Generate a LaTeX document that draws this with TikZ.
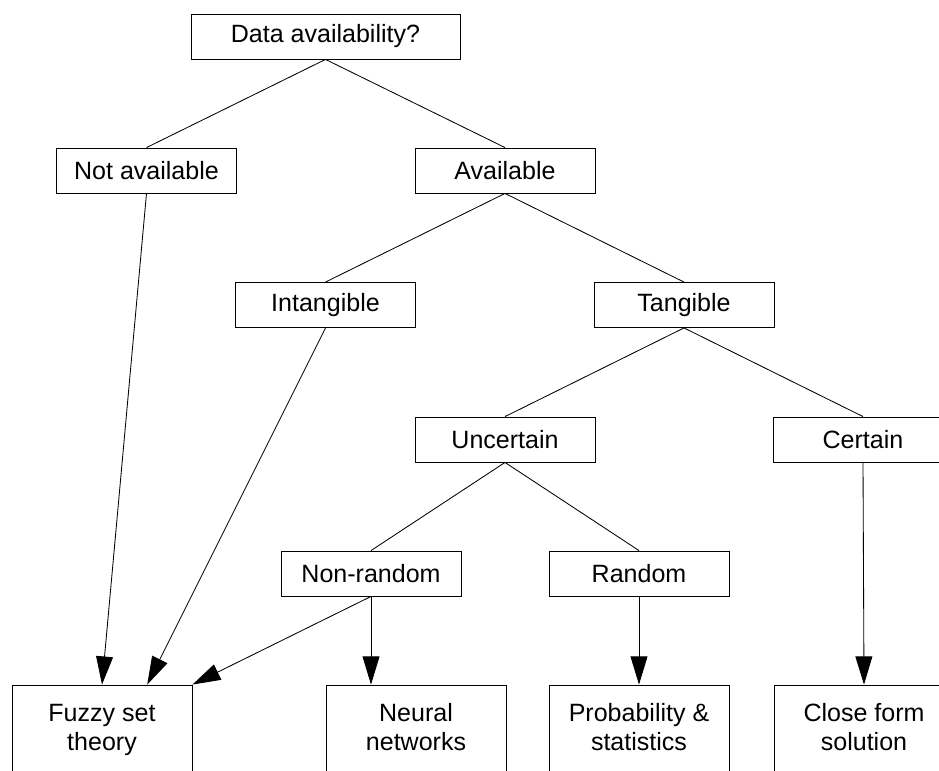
\documentclass[tikz,border=0pt]{standalone}
\usepackage{fontspec}
\setmainfont{Liberation Sans}
\usetikzlibrary{arrows.meta,calc}

\begin{document}
\begin{tikzpicture}[x=0.025cm,y=-0.025cm,>={Triangle[length=20pt,width=12pt]},line width=0.6pt,
  box/.style={draw,inner sep=0pt,minimum width=4.5cm,minimum height=1.125cm,
    font=\fontsize{17.8}{21.3}\selectfont,align=center},
  leaf/.style={box,minimum height=2.25cm}]
  \useasboundingbox (0,0) rectangle (939,770);
  \clip (0,0) rectangle (939,770);
  \node[box,minimum width=6.725cm] (data) at (325.5,36.5) {Data availability?};
  \node[box] (notavail) at (146.5,170.5) {Not available};
  \node[box] (avail) at (505,170.5) {Available};
  \node[box] (intang) at (325.5,305) {Intangible};
  \node[box] (tang) at (684,305) {Tangible};
  \node[box] (uncert) at (505,439.5) {Uncertain};
  \node[box] (cert) at (863,439.5) {Certain};
  \node[box] (nonrand) at (371,573.5) {Non-random};
  \node[box] (rand) at (639,573.5) {Random};
  \node[leaf] (fuzzy) at (102,730) {Fuzzy set\strut\\theory\strut};
  \node[leaf] (neural) at (416,730) {Neural\strut\\networks\strut};
  \node[leaf] (prob) at (639,730) {Probability \&\strut\\statistics\strut};
  \node[leaf] (close) at (864,730) {Close form\strut\\solution\strut};
  \draw (data.south) -- (notavail.north);
  \draw (data.south) -- (avail.north);
  \draw (avail.south) -- (intang.north);
  \draw (avail.south) -- (tang.north);
  \draw (tang.south) -- (uncert.north);
  \draw (tang.south) -- (cert.north);
  \draw (uncert.south) -- (nonrand.north);
  \draw (uncert.south) -- (rand.north);
  \draw[->] (notavail.south) -- (fuzzy.north);
  \draw[->] (intang.south) -- ($(fuzzy.north)!0.5!(fuzzy.north east)$);
  \draw[->] (nonrand.south) -- (fuzzy.north east);
  \draw[->] (nonrand.south) -- (nonrand.south |- neural.north);
  \draw[->] (rand.south) -- (prob.north);
  \draw[->] (cert.south) -- (close.north);
\end{tikzpicture}
\end{document}
